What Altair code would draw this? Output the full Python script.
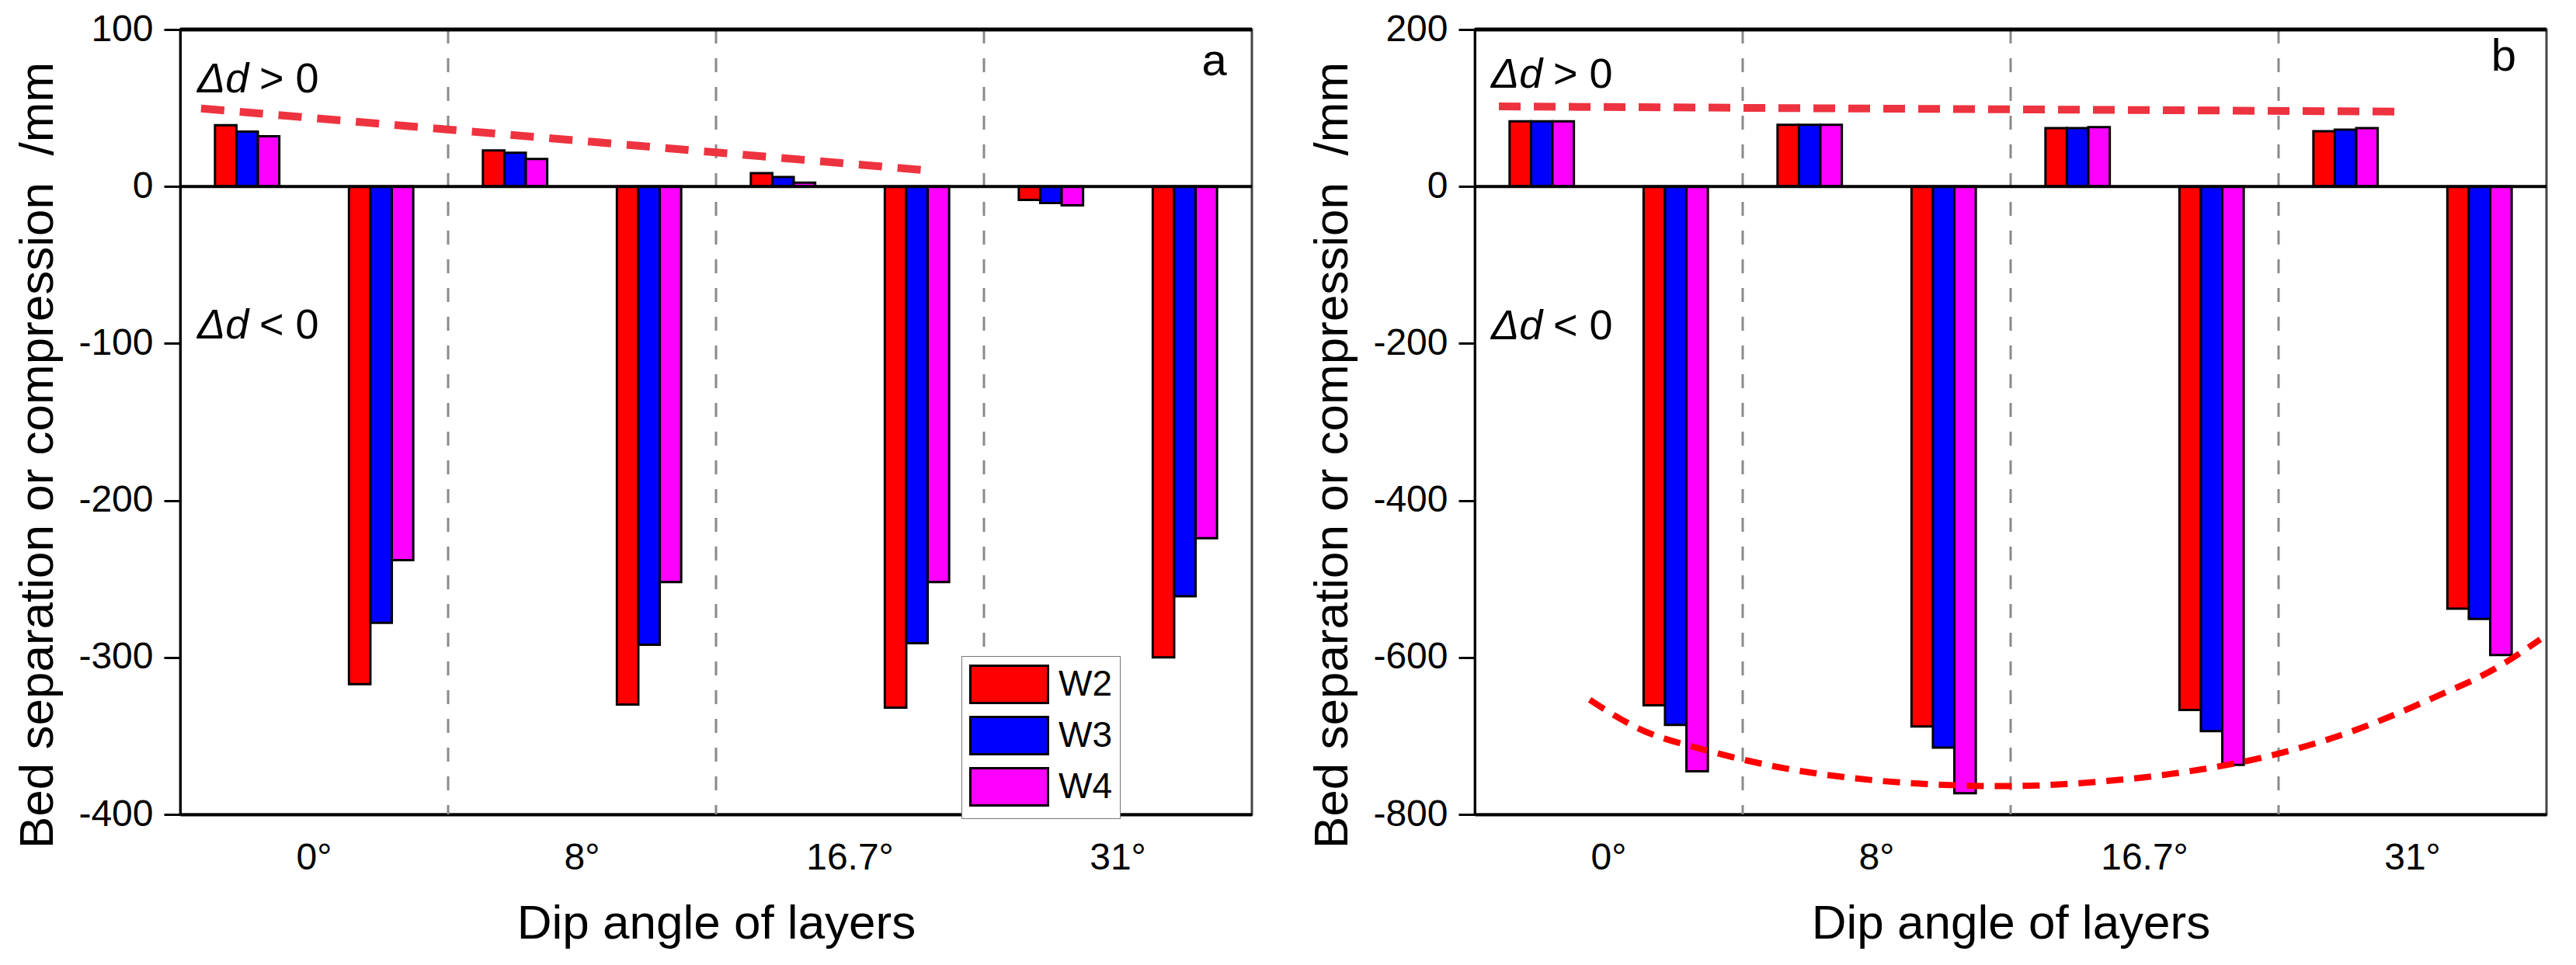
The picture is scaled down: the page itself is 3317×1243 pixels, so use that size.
import pandas as pd
import altair as alt

FONT = "Liberation Sans"

angles = ["0°", "8°", "16.7°", "31°"]
wells = ["W2", "W3", "W4"]
well_colors = ["#ff0000", "#0000ff", "#ff00ff"]

# panel a -- first bar group of each angle (separation side) and second group (compression side)
a_sep = {"W2": [39, 23, 8.5, -8.5], "W3": [35, 21.5, 6, -10.5], "W4": [32, 17.5, 2.5, -12]}
a_comp = {"W2": [-317, -330, -332, -300], "W3": [-278, -292, -291, -261], "W4": [-238, -252, -252, -224]}

# panel b
b_sep = {"W2": [83, 78.5, 74.5, 70.5], "W3": [83, 78.5, 74.5, 72.5], "W4": [83, 78.5, 75.5, 74.5]}
b_comp = {"W2": [-661, -688, -667, -538], "W3": [-686, -715, -694, -551], "W4": [-745, -773, -737, -597]}

# red dashed guide lines, x in angle-section units (0..4), y in mm
a_trend_x = [0.078, 2.82]
a_trend_y = [49.7, 9.8]
b_trend_x = [0.09, 3.48]
b_trend_y = [102, 95.4]
b_arc_x = [0.429, 0.614, 0.861, 1.107, 1.417, 1.725, 1.971, 2.342, 2.649, 2.959, 3.267, 3.574, 3.82, 3.977]
b_arc_y = [-654, -691, -718, -738, -754, -762, -764, -758, -746, -726, -695, -652, -612, -577]

# annotation positions (section units, mm)
a_note_x = [0.064, 0.064]
a_note_y = [68, -89]
b_note_x = [0.061, 0.061]
b_note_y = [142, -179]
note_sign = ["> 0", "< 0"]
a_letter = (3.86, 79, "a")
b_letter = (3.84, 164, "b")

slot_order = [f"{a} {k}" for a in angles for k in ("sep", "comp")]
y_title = "Bed separation or compression\u00a0 /mm"


def bar_table(sep, comp):
    rows = []
    for w in wells:
        for i, ang in enumerate(angles):
            rows.append({"slot": f"{ang} sep", "well": w, "value": sep[w][i]})
            rows.append({"slot": f"{ang} comp", "well": w, "value": comp[w][i]})
    return pd.DataFrame(rows)


def panel(sep, comp, ylo, yhi, ystep, lines, note_x, note_y, letter, legend):
    yaxis = alt.Axis(title=y_title,
                     values=list(range(ylo, yhi + 1, ystep)), grid=False,
                     labelExpr="replace(datum.label, '\u2212', '-')",
                     tickSize=21, tickWidth=3, tickColor="black",
                     domainColor="black", domainWidth=3,
                     labelFont=FONT, labelFontSize=48, labelColor="black", labelPadding=14,
                     titleFont=FONT, titleFontSize=62, titleFontWeight="normal",
                     titleColor="black", titlePadding=20, titleY=548)
    yscale = alt.Scale(domain=[ylo, yhi], nice=False, zero=False)
    y_enc = alt.Y("value:Q", scale=yscale, axis=yaxis)
    x_sec = alt.X("x:Q", scale=alt.Scale(domain=[0, 4], nice=False, zero=False), axis=None)

    bars = alt.Chart(bar_table(sep, comp)).mark_bar(stroke="black", strokeWidth=3).encode(
        x=alt.X("slot:N", sort=slot_order,
                scale=alt.Scale(domain=slot_order, paddingInner=0.52, paddingOuter=0.26),
                axis=None),
        xOffset=alt.XOffset("well:N", scale=alt.Scale(domain=wells, paddingInner=0, paddingOuter=0)),
        y=y_enc,
        color=alt.Color("well:N", scale=alt.Scale(domain=wells, range=well_colors), legend=legend),
    )

    seps = alt.Chart(pd.DataFrame({"angle": angles[:-1]})).mark_rule(
        color="#8a8a8a", strokeWidth=3, strokeDash=[18, 19]
    ).encode(
        x=alt.X("angle:N", bandPosition=1,
                scale=alt.Scale(domain=angles, paddingInner=0, paddingOuter=0),
                axis=alt.Axis(title="Dip angle of layers", labelAngle=0, ticks=False,
                              domainColor="black", domainWidth=4,
                              labelFont=FONT, labelFontSize=48, labelColor="black", labelPadding=32,
                              titleFont=FONT, titleFontSize=62, titleFontWeight="normal",
                              titleColor="black", titlePadding=30))
    )

    zero = alt.Chart(pd.DataFrame({"value": [0]})).mark_rule(color="black", strokeWidth=4).encode(y=y_enc)
    top = alt.Chart(pd.DataFrame({"value": [yhi]})).mark_rule(color="black", strokeWidth=5).encode(y=y_enc)

    layers = [seps, bars, zero, top]
    for xs, ys, color, dash, width in lines:
        layers.append(
            alt.Chart(pd.DataFrame({"x": xs, "value": ys})).mark_line(
                color=color, strokeDash=dash, strokeWidth=width, interpolate="monotone"
            ).encode(x=x_sec, y=y_enc)
        )

    notes = pd.DataFrame({"x": note_x, "value": note_y, "sign": note_sign})
    layers.append(alt.Chart(notes).mark_text(
        text="Δd", font=FONT, fontSize=54, fontStyle="italic", align="left", baseline="middle", color="black"
    ).encode(x=x_sec, y=y_enc))
    layers.append(alt.Chart(notes).mark_text(
        font=FONT, fontSize=54, align="left", baseline="middle", dx=80, color="black"
    ).encode(x=x_sec, y=y_enc, text="sign:N"))

    lab = pd.DataFrame({"x": [letter[0]], "value": [letter[1]], "t": [letter[2]]})
    layers.append(alt.Chart(lab).mark_text(
        font=FONT, fontSize=58, align="center", baseline="middle", color="black"
    ).encode(x=x_sec, y=y_enc, text="t:N"))

    return alt.layer(*layers).resolve_scale(x="independent").properties(width=1380, height=1011)


# wide swatch: the path starts at the left of the space the legend reserves for it
legend_a = alt.Legend(orient="none", legendX=1006, legendY=807, title=None,
                      symbolType="M-1,-0.96H3V0.96H-1Z", symbolSize=2500,
                      symbolStrokeColor="black", symbolStrokeWidth=3, symbolOpacity=1,
                      labelFont=FONT, labelFontSize=46, labelColor="black", labelOffset=62,
                      rowPadding=5, padding=10, strokeColor="#777", fillColor="white")

left = panel(a_sep, a_comp, -400, 100, 100,
             [(a_trend_x, a_trend_y, "#ee3340", [30, 20], 10)],
             a_note_x, a_note_y, a_letter, legend_a)
right = panel(b_sep, b_comp, -800, 200, 200,
              [(b_trend_x, b_trend_y, "#ee3340", [28, 17], 10),
               (b_arc_x, b_arc_y, "#ff0000", [22, 14], 8)],
              b_note_x, b_note_y, b_letter, None)

chart = alt.hconcat(left, right, spacing=67).resolve_legend(color="independent").configure_view(
    stroke="#444", strokeWidth=3
).properties(padding={"left": 8, "top": 4, "right": 5, "bottom": 5})

chart.save("out.html", embed_options={"renderer": "svg", "actions": False})
